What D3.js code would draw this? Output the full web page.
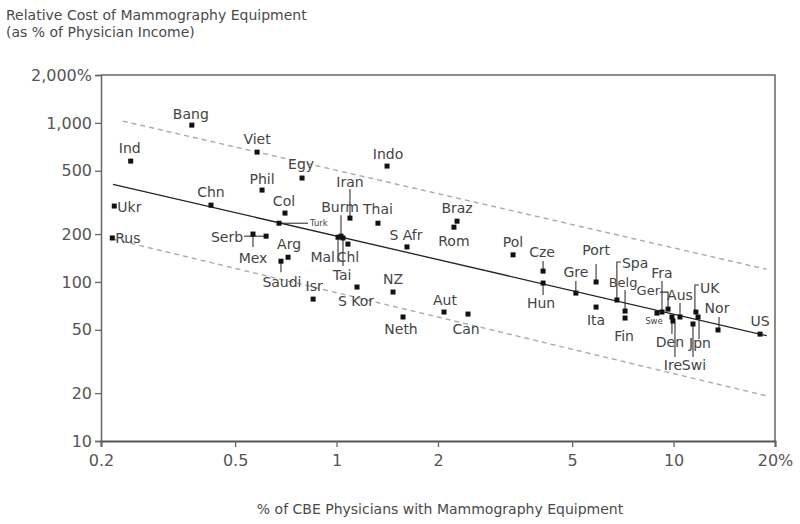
<!DOCTYPE html>
<html lang="en">
  <head>
    <meta charset="UTF-8" />
    <title>Mammography equipment cost</title>
    <style>
      body { margin: 0; background: #fff; }
      text { font-family: "DejaVu Sans", Verdana, sans-serif; }
    </style>
  </head>
  <body>
    <script src="https://d3js.org/d3.v7.min.js"></script>
    <script>
      const width = 800;
      const height = 524;

      // data
      const countries = ["Bang", "Viet", "Ind", "Egy", "Phil", "Chn", "Col", "Ukr", "Turk", "Rus",
        "Indo", "Iran", "Thai", "Braz", "Rom", "S Afr", "Mex", "Serb", "Mal", "Burm", "Tai", "Chl",
        "Arg", "Saudi", "Isr", "S Kor", "NZ", "Neth", "Aut", "Can", "Pol", "Cze", "Hun", "Gre",
        "Port", "Ita", "Spa", "Belg", "Fin", "Swe", "Fra", "Ger", "Den", "Ire", "Aus", "UK", "Jpn",
        "Swi", "Nor", "US"];
      const pctPhysicians = [0.372, 0.581, 0.245, 0.79, 0.601, 0.424, 0.703, 0.219, 0.675, 0.216,
        1.412, 1.096, 1.327, 2.278, 2.23, 1.618, 0.565, 0.618, 1.01, 1.031, 1.045, 1.081,
        0.718, 0.684, 0.852, 1.15, 1.471, 1.575, 2.084, 2.455, 3.34, 4.1, 4.1, 5.13,
        5.89, 5.89, 6.79, 7.18, 7.18, 8.93, 9.24, 9.63, 9.89, 9.96, 10.45, 11.65, 11.82,
        11.42, 13.55, 18.06];
      const relCost = [968, 655, 575, 450, 378, 304, 271, 300, 234, 189,
        535, 252, 234, 241, 221, 166, 200, 194, 191, 194, 189, 173,
        143, 135, 78, 92.9, 86.4, 60.2, 64.7, 62.8, 148, 117, 98.4, 85.1,
        99.9, 69.5, 77, 65.6, 59.3, 63.7, 64.7, 67.5, 60.2, 56.8, 60.2, 64.7, 60.2,
        54.4, 49.9, 47];

      const fitX = [0.2171, 18.9];
      const fitY = [411, 45.9];
      const upperX = [0.232, 18.9];
      const upperY = [1026, 120];
      const lowerX = [0.2171, 18.9];
      const lowerY = [186, 19.2];

      const xTicks = [0.2, 0.5, 1, 2, 5, 10, 20];
      const yTicks = [10, 20, 50, 100, 200, 500, 1000, 2000];

      // label placement: offsets in px from the marker, optional leader polyline
      const labelLayout = {
        "Bang": { dx: -1, dy: -6 },
        "Viet": { dx: 0, dy: -8 },
        "Ind": { dx: -1, dy: -8 },
        "Egy": { dx: -1, dy: -9 },
        "Phil": { dx: 0, dy: -6 },
        "Chn": { dx: 0, dy: -8 },
        "Col": { dx: -1, dy: -7 },
        "Ukr": { dx: 3, dy: 6, anchor: "start" },
        "Rus": { dx: 3, dy: 5, anchor: "start" },
        "Serb": { dx: -23, dy: 6, anchor: "end", leader: [[-22, 0], [-2, 0]] },
        "Mex": { dx: 0, dy: 29, leader: [[0, 2], [0, 13]] },
        "Arg": { dx: 1, dy: -8 },
        "Saudi": { dx: 1, dy: 26, leader: [[0, 2], [0, 11]] },
        "Isr": { dx: 1, dy: -8 },
        "Turk": { dx: 31, dy: 3, anchor: "start", small: true, leader: [[2, 0], [29, 0]] },
        "Indo": { dx: 1, dy: -7 },
        "Iran": { dx: 0, dy: -31, leader: [[0, -29], [0, -2]] },
        "Burm": { dx: -1, dy: -24, leader: [[0, -21], [0, -2]] },
        "Thai": { dx: 0, dy: -9 },
        "Mal": { dx: -3, dy: 25, anchor: "end", leader: [[0, 2], [0, 25]] },
        "Chl": { dx: 0, dy: 18 },
        "Tai": { dx: -1, dy: 42, leader: [[0, 2], [0, 28]] },
        "S Afr": { dx: -1, dy: -7 },
        "Braz": { dx: 0, dy: -8 },
        "Rom": { dx: 0, dy: 19 },
        "S Kor": { dx: -1, dy: 19 },
        "NZ": { dx: 0, dy: -8 },
        "Neth": { dx: -2, dy: 17 },
        "Aut": { dx: 1, dy: -7 },
        "Can": { dx: -2, dy: 20 },
        "Pol": { dx: 0, dy: -8 },
        "Cze": { dx: -1, dy: -14, leader: [[0, -10], [0, -2]] },
        "Hun": { dx: -2, dy: 25, leader: [[0, 2], [0, 12]] },
        "Gre": { dx: 0, dy: -16, leader: [[0, -12], [0, -2]] },
        "Port": { dx: 0, dy: -27, leader: [[0, -18], [0, -2]] },
        "Ita": { dx: 0, dy: 18 },
        "Spa": { dx: 5, dy: -32, anchor: "start", leader: [[0, -2], [0, -38], [4, -38]] },
        "Belg": { dx: -2, dy: -24, leader: [[0, -21], [0, -2]] },
        "Fin": { dx: -1, dy: 23 },
        "Swe": { dx: -3, dy: 11, small: true },
        "Fra": { dx: 0, dy: -34, leader: [[0, -31], [0, -2]] },
        "Ger": { dx: -8, dy: -14, anchor: "end", leader: [[-8, -17], [0, -17], [0, -2]] },
        "Den": { dx: -2, dy: 30, leader: [[0, 2], [0, 17]] },
        "Ire": { dx: 0, dy: 49, leader: [[2, 2], [2, 36]] },
        "Aus": { dx: 0, dy: -17, leader: [[0, -14], [0, -2]] },
        "UK": { dx: 4, dy: -19, anchor: "start", leader: [[-1, -2], [-1, -27], [3, -27]] },
        "Jpn": { dx: 2, dy: 31, leader: [[1, 2], [1, 22]] },
        "Swi": { dx: 1, dy: 46, leader: [[0, 2], [0, 33]] },
        "Nor": { dx: -1, dy: -17, leader: [[1, -13], [1, -2]] },
        "US": { dx: 0, dy: -8 },
      };

      const points = countries.map((c, i) => ({ name: c, x: pctPhysicians[i], y: relCost[i] }));

      const svg = d3.select("body").append("svg")
        .attr("width", width)
        .attr("height", height);

      const x = d3.scaleLog().domain([0.2, 20]).range([101, 775]);
      const y = d3.scaleLog().domain([10, 2000]).range([441, 75]);

      // titles
      svg.append("text").attr("x", 6).attr("y", 20)
        .attr("font-size", 14).attr("fill", "#4a4a4a")
        .text("Relative Cost of Mammography Equipment");
      svg.append("text").attr("x", 6).attr("y", 37)
        .attr("font-size", 14).attr("fill", "#4a4a4a")
        .text("(as % of Physician Income)");
      svg.append("text").attr("x", 440).attr("y", 514)
        .attr("text-anchor", "middle")
        .attr("font-size", 14).attr("fill", "#4a4a4a")
        .text("% of CBE Physicians with Mammography Equipment");

      // frame top / right
      svg.append("path")
        .attr("d", `M${x(0.2)},${y(2000)}H${x(20)}V${y(10)}`)
        .attr("fill", "none").attr("stroke", "#666").attr("stroke-width", 1.5);

      // axes
      const yAxis = svg.append("g")
        .attr("transform", `translate(${x(0.2)},0)`)
        .call(d3.axisLeft(y).tickValues(yTicks).tickSize(6).tickPadding(3)
          .tickFormat((d) => d === 2000 ? "2,000%" : d3.format(",")(d)));
      yAxis.select(".domain").attr("stroke", "#666").attr("stroke-width", 1.5);
      yAxis.selectAll(".tick line").attr("stroke", "#666").attr("stroke-width", 1.3);
      yAxis.selectAll(".tick text").attr("font-size", 16).attr("fill", "#555")
        .attr("font-family", "DejaVu Sans, sans-serif");

      const xAxis = svg.append("g")
        .attr("transform", `translate(0,${y(10)})`)
        .call(d3.axisBottom(x).tickValues(xTicks).tickSize(6).tickPadding(8)
          .tickFormat((d) => d === 20 ? "20%" : String(d)));
      xAxis.select(".domain").attr("stroke", "#555").attr("stroke-width", 2);
      xAxis.selectAll(".tick line").attr("stroke", "#666").attr("stroke-width", 1.3);
      xAxis.selectAll(".tick text").attr("font-size", 16).attr("fill", "#555")
        .attr("font-family", "DejaVu Sans, sans-serif");

      // fit and band lines
      const line = d3.line().x((d) => x(d[0])).y((d) => y(d[1]));
      svg.append("path")
        .attr("d", line(d3.zip(upperX, upperY)))
        .attr("fill", "none").attr("stroke", "#aaa").attr("stroke-width", 1.4)
        .attr("stroke-dasharray", "5,4");
      svg.append("path")
        .attr("d", line(d3.zip(lowerX, lowerY)))
        .attr("fill", "none").attr("stroke", "#aaa").attr("stroke-width", 1.4)
        .attr("stroke-dasharray", "5,4");
      svg.append("path")
        .attr("d", line(d3.zip(fitX, fitY)))
        .attr("fill", "none").attr("stroke", "#222").attr("stroke-width", 1.3);

      // leaders
      const leaderLine = d3.line();
      svg.append("g")
        .selectAll("path")
        .data(points.filter((d) => labelLayout[d.name].leader))
        .join("path")
        .attr("d", (d) => leaderLine(labelLayout[d.name].leader
          .map(([dx, dy]) => [x(d.x) + dx, y(d.y) + dy])))
        .attr("fill", "none").attr("stroke", "#333").attr("stroke-width", 1.1);

      // labels
      svg.append("g")
        .selectAll("text")
        .data(points)
        .join("text")
        .attr("x", (d) => x(d.x) + labelLayout[d.name].dx)
        .attr("y", (d) => y(d.y) + labelLayout[d.name].dy)
        .attr("text-anchor", (d) => labelLayout[d.name].anchor || "middle")
        .attr("font-size", (d) => labelLayout[d.name].small ? 8.5 : (d.name === "Belg" || d.name === "Ger" ? 13 : 14))
        .attr("fill", "#444")
        .text((d) => d.name);

      // markers
      svg.append("g")
        .selectAll("rect")
        .data(points)
        .join("rect")
        .attr("x", (d) => x(d.x) - 2.5)
        .attr("y", (d) => y(d.y) - 2.5)
        .attr("width", 5)
        .attr("height", 5)
        .attr("fill", "#111");
    </script>
  </body>
</html>
